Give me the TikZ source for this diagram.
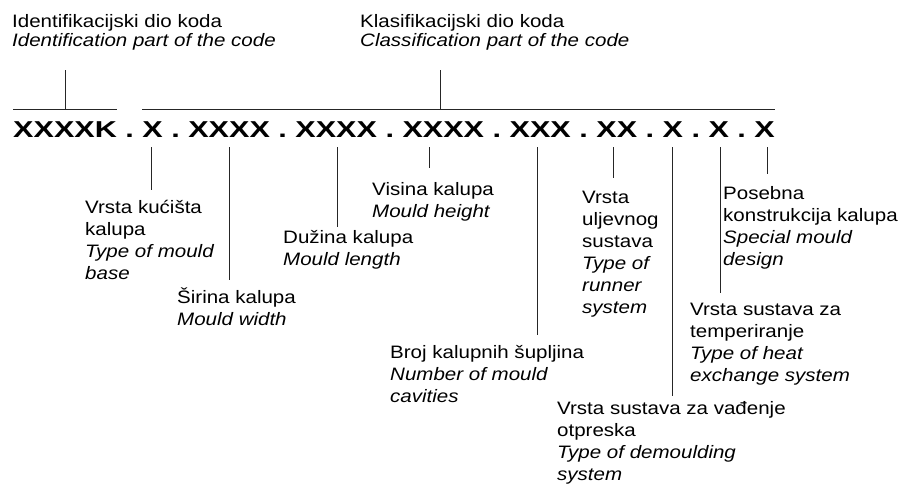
\documentclass[tikz,border=0pt]{standalone}
\usepackage{fontspec}
\setmainfont{Liberation Sans}[FakeStretch=1.14]
\newfontfamily\codefont{Liberation Sans}[FakeStretch=1.33]
\usetikzlibrary{matrix,calc}
\newcommand{\eng}[1]{\textit{#1}}

\begin{document}
\begin{tikzpicture}[
x=1pt, y=1pt,
codeline/.style={
  matrix of nodes,
  nodes={
    inner sep=0pt,
    font=\codefont\bfseries\fontsize{23}{26}\selectfont
    },
  column sep=8.5pt,
  inner sep=0pt
  },
desc/.style={
  anchor=base west,
  inner sep=0pt,
  align=left,
  font=\fontsize{18}{22}\selectfont
  },
head/.style={
  desc,
  font=\fontsize{18}{18.5}\selectfont
  },
link/.style={draw=black!85, line width=0.9pt}
]
\useasboundingbox (0,0) rectangle (901,-493);

% the code itself
\matrix[codeline, anchor=west] (code) at (13,-129.5)
{
XXXXK & . & X & . & XXXX & . & XXXX & . & XXXX & . & XXX & . & XX & . & X & . & X & . & X \\
};

% the two parts above the code (placed by their last line)
\node[head] (ident) at (12,-46) {Identifikacijski dio koda\\\eng{Identification part of the code}};
\node[head] (class) at (360,-46) {Klasifikacijski dio koda\\\eng{Classification part of the code}};

\coordinate (idL) at ([yshift=12]code-1-1.north west);
\coordinate (idR) at ([yshift=12]code-1-1.north east);
\coordinate (clL) at ([yshift=12]code-1-3.north west);
\coordinate (clR) at ([yshift=12]code-1-19.north east);
\coordinate (idM) at ($(idL)!0.5!(idR)$);
\coordinate (clM) at ($(clL)!0.472!(clR)$);
\draw[link] (idL) -- (idR);
\draw[link] (clL) -- (clR);
\draw[link] (idM) -- ([yshift=-20]idM |- ident.south);
\draw[link] (clM) -- ([yshift=-20]clM |- class.south);

% the fields below the code (placed by their last line)
\node[desc] (base) at (85,-279) {Vrsta kućišta\\kalupa\\\eng{Type of mould}\\\eng{base}};
\node[desc] (width) at (177,-325) {Širina kalupa\\\eng{Mould width}};
\node[desc] (length) at (283,-265) {Dužina kalupa\\\eng{Mould length}};
\node[desc] (height) at (372,-217) {Visina kalupa\\\eng{Mould height}};
\node[desc] (cavity) at (390,-402) {Broj kalupnih šupljina\\\eng{Number of mould}\\\eng{cavities}};
\node[desc] (runner) at (582,-313) {Vrsta\\uljevnog\\sustava\\\eng{Type of}\\\eng{runner}\\\eng{system}};
\node[desc] (eject) at (557,-480) {Vrsta sustava za vađenje\\otpreska\\\eng{Type of demoulding}\\\eng{system}};
\node[desc] (heat) at (690,-381) {Vrsta sustava za\\temperiranje\\\eng{Type of heat}\\\eng{exchange system}};
\node[desc] (special) at (723,-265) {Posebna\\konstrukcija kalupa\\\eng{Special mould}\\\eng{design}};

\foreach \seg/\dx/\lbl/\gap in {3/-1/base/10, 5/0/width/7, 7/1/length/3, 9/-14/height/14, 11/-3/cavity/10, 13/-3/runner/12, 15/0/eject/5, 17/2/heat/9, 19/3/special/12}
  \draw[link] ([xshift=\dx, yshift=-9.5]code-1-\seg.south) -- ([shift={(\dx,\gap)}]code-1-\seg.south |- \lbl.north);
\end{tikzpicture}
\end{document}
